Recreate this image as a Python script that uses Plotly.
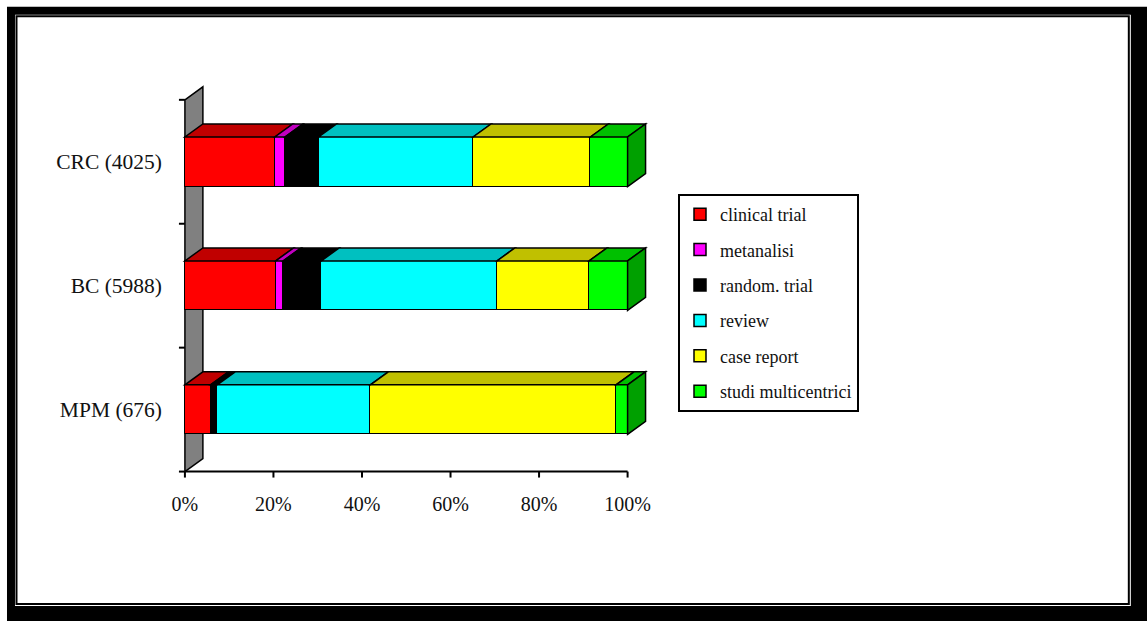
import plotly.graph_objects as go

# ---------------- data ----------------
categories = ["MPM (676)", "BC (5988)", "CRC (4025)"]
series_names = ["clinical trial", "metanalisi", "random. trial", "review",
                "case report", "studi multicentrici"]
clinical_trial = [5.8, 20.5, 20.3]
metanalisi = [0.0, 1.7, 2.3]
random_trial = [1.5, 8.6, 7.6]
review = [34.6, 39.7, 34.9]
case_report = [55.5, 20.8, 26.5]
studi_multicentrici = [2.6, 8.7, 8.4]
x_tick_values = [0, 20, 40, 60, 80, 100]
x_tick_labels = ["0%", "20%", "40%", "60%", "80%", "100%"]

front_colors = ["#FF0000", "#FF00FF", "#000000", "#00FFFF", "#FFFF00", "#00FF00"]
top_colors = ["#C00000", "#C000C0", "#000000", "#00C0C0", "#C0C000", "#00C000"]
side_colors = ["#A00000", "#A000A0", "#000000", "#00A0A0", "#A0A000", "#00A000"]

series_values = [clinical_trial, metanalisi, random_trial, review,
                 case_report, studi_multicentrici]

# ---------------- geometry ----------------
W_FIG, H_FIG = 1147, 621
X_RANGE = [-4.5, 108]
Y_RANGE = [-0.56, 2.66]
M_L, M_R = 165.1, 483.6
M_T, M_B = 80.2, 141.6
PLOT_W = W_FIG - M_L - M_R
PLOT_H = H_FIG - M_T - M_B
BAR_W = 0.4
DX = 4.06   # depth in x data units
DY = 0.105  # depth in y data units
FONT = "Liberation Serif"


def px_x(px):
    return (px - M_L) / PLOT_W


def px_y(py):
    return (H_FIG - M_B - py) / PLOT_H


fig = go.Figure()

for name, vals, col in zip(series_names, series_values, front_colors):
    fig.add_trace(go.Bar(
        name=name, y=list(range(len(categories))), x=vals, orientation="h",
        width=BAR_W, legendgroup=name,
        marker=dict(color=col, line=dict(color="black", width=1.5)),
        hoverinfo="x+name",
    ))

shapes = []
# outer frame (paper coordinates)
shapes.append(dict(type="rect", xref="paper", yref="paper", layer="below",
                   x0=px_x(7), x1=px_x(1170), y0=px_y(7), y1=px_y(650),
                   fillcolor="black", line=dict(width=0)))
shapes.append(dict(type="rect", xref="paper", yref="paper", layer="below",
                   x0=px_x(15), x1=px_x(1131.5), y0=px_y(15), y1=px_y(606.5),
                   fillcolor="white", line=dict(width=0)))
shapes.append(dict(type="rect", xref="paper", yref="paper", layer="below",
                   x0=px_x(16.5), x1=px_x(1129.5), y0=px_y(16.5), y1=px_y(604.5),
                   fillcolor="rgba(0,0,0,0)", line=dict(color="black", width=2)))

n_cat = len(categories)
y_lo, y_hi = -0.5, n_cat - 0.5
# side wall
shapes.append(dict(type="path", xref="x", yref="y", layer="below",
                   path=f"M 0,{y_lo} L {DX},{y_lo + DY} L {DX},{y_hi + DY} L 0,{y_hi} Z",
                   fillcolor="#808080", line=dict(color="black", width=1.5)))
# category boundary ticks
for k in range(n_cat + 1):
    yb = k - 0.5
    shapes.append(dict(type="line", xref="x", yref="y", layer="above",
                       x0=-1.35, x1=0, y0=yb, y1=yb,
                       line=dict(color="black", width=2)))
# x axis line and ticks
shapes.append(dict(type="line", xref="x", yref="y", layer="above",
                   x0=x_tick_values[0], x1=x_tick_values[-1], y0=y_lo, y1=y_lo,
                   line=dict(color="black", width=2)))
for tv in x_tick_values:
    shapes.append(dict(type="line", xref="x", yref="y", layer="above",
                       x0=tv, x1=tv, y0=y_lo, y1=y_lo - 6 / 124,
                       line=dict(color="black", width=2)))

# 3D top and side faces
for i in range(n_cat):
    yt = i + BAR_W / 2
    yb = i - BAR_W / 2
    start = 0.0
    last_idx = None
    for s, vals in enumerate(series_values):
        v = vals[i]
        if v <= 0:
            continue
        x0, x1 = start, start + v
        shapes.append(dict(
            type="path", xref="x", yref="y", layer="above",
            path=f"M {x0},{yt} L {x1},{yt} L {x1 + DX},{yt + DY} L {x0 + DX},{yt + DY} Z",
            fillcolor=top_colors[s], line=dict(color="black", width=1.5)))
        start = x1
        last_idx = s
    shapes.append(dict(
        type="path", xref="x", yref="y", layer="above",
        path=f"M {start},{yb} L {start + DX},{yb + DY} L {start + DX},{yt + DY} L {start},{yt} Z",
        fillcolor=side_colors[last_idx], line=dict(color="black", width=1.5)))

fig.update_layout(
    width=W_FIG, height=H_FIG,
    margin=dict(l=M_L, r=M_R, t=M_T, b=M_B, autoexpand=False),
    barmode="stack", bargap=0,
    paper_bgcolor="white", plot_bgcolor="rgba(0,0,0,0)",
    font=dict(family=FONT, size=20, color="#111111"),
    shapes=shapes,
    showlegend=True,
    legend=dict(
        xref="container", yref="container",
        x=678 / W_FIG, y=1 - 194 / H_FIG, xanchor="left", yanchor="top",
        bgcolor="white", bordercolor="black", borderwidth=2,
        font=dict(family=FONT, size=18, color="#111111"),
        traceorder="grouped", tracegroupgap=9,
    ),
    xaxis=dict(range=X_RANGE, tickvals=x_tick_values, ticktext=x_tick_labels,
               ticks="", showgrid=False, zeroline=False, showline=False,
               ticklabelstandoff=11, fixedrange=True),
    yaxis=dict(range=Y_RANGE, tickvals=list(range(n_cat)), ticktext=categories,
               ticks="", showgrid=False, zeroline=False, showline=False,
               tickfont=dict(family=FONT, size=21.5, color="#111111"),
               ticklabelstandoff=2, fixedrange=True),
)

fig.write_html("out.html")
